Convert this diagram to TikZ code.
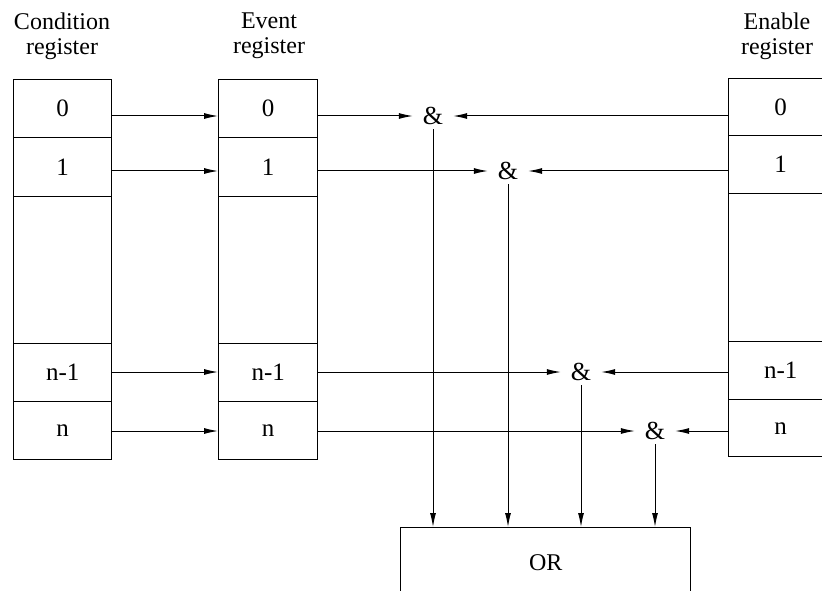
\documentclass[tikz,border=0pt]{standalone}
\usepackage{fontspec}
\setmainfont{Liberation Serif}
\usetikzlibrary{arrows.meta}
\begin{document}
\begin{tikzpicture}[x=1pt,y=-1pt,
  cell/.style={draw, line width=1.4pt, anchor=north west, inner sep=0pt, font=\fontsize{25}{27}\selectfont},
  lbl/.style={align=center, inner sep=0pt, font=\fontsize{24}{25}\selectfont},
  gate/.style={inner sep=0pt, minimum width=40pt, minimum height=26pt, font=\fontsize{26}{27}\selectfont},
  conn/.style={line width=1pt, -{Latex[length=14pt,width=6pt]}},
  orbox/.style={draw, line width=1.4pt, anchor=north west, minimum width=290pt, minimum height=70pt, inner sep=0pt, font=\fontsize{24}{25}\selectfont}
]
\useasboundingbox (0,0) rectangle (822,591);
\clip (0,0) rectangle (822,591);

% labels
\node[lbl] (lc) at (62,36) {Condition\\register};
\node[lbl] (le) at (269,36) {Event\\register};
\node[lbl] (ln) at (777,36) {Enable\\register};

% condition register
\begin{scope}[every node/.append style={minimum width=98pt}]
\node[cell, minimum height=58pt] (c0) at (13,79) {0};
\node[cell, minimum height=59pt] (c1) at (13,137) {1};
\node[cell, minimum height=147pt] (c2) at (13,196) {};
\node[cell, minimum height=58pt] (c3) at (13,343) {n-1};
\node[cell, minimum height=58pt] (c4) at (13,401) {n};
\end{scope}

% event register
\begin{scope}[every node/.append style={minimum width=99pt}]
\node[cell, minimum height=58pt] (e0) at (218,79) {0};
\node[cell, minimum height=59pt] (e1) at (218,137) {1};
\node[cell, minimum height=147pt] (e2) at (218,196) {};
\node[cell, minimum height=58pt] (e3) at (218,343) {n-1};
\node[cell, minimum height=58pt] (e4) at (218,401) {n};
\end{scope}

% enable register
\begin{scope}[every node/.append style={minimum width=104pt}]
\node[cell, minimum height=57pt] (n0) at (728,78) {0};
\node[cell, minimum height=58pt] (n1) at (728,135) {1};
\node[cell, minimum height=148pt] (n2) at (728,193) {};
\node[cell, minimum height=58pt] (n3) at (728,341) {n-1};
\node[cell, minimum height=57pt] (n4) at (728,399) {n};
\end{scope}

% AND gates
\node[gate] (a0) at (433,116) {\&};
\node[gate] (a1) at (508,171) {\&};
\node[gate] (a2) at (581,372) {\&};
\node[gate] (a3) at (655,431) {\&};

% OR box
\node[orbox] (or) at (400,527) {OR};

% condition -> event
\draw[conn] (c0.east |- a0) -- (e0.west |- a0);
\draw[conn] (c1.east |- a1) -- (e1.west |- a1);
\draw[conn] (c3.east |- a2) -- (e3.west |- a2);
\draw[conn] (c4.east |- a3) -- (e4.west |- a3);

% event -> gates
\draw[conn] (e0.east |- a0) -- (a0.west);
\draw[conn] (e1.east |- a1) -- (a1.west);
\draw[conn] (e3.east |- a2) -- (a2.west);
\draw[conn] (e4.east |- a3) -- (a3.west);

% enable -> gates
\draw[conn] (n0.west |- a0) -- (a0.east);
\draw[conn] (n1.west |- a1) -- (a1.east);
\draw[conn] (n3.west |- a2) -- (a2.east);
\draw[conn] (n4.west |- a3) -- (a3.east);

% gates -> OR
\draw[conn] (a0.south) -- (a0.south |- or.north);
\draw[conn] (a1.south) -- (a1.south |- or.north);
\draw[conn] (a2.south) -- (a2.south |- or.north);
\draw[conn] (a3.south) -- (a3.south |- or.north);
\end{tikzpicture}
\end{document}
